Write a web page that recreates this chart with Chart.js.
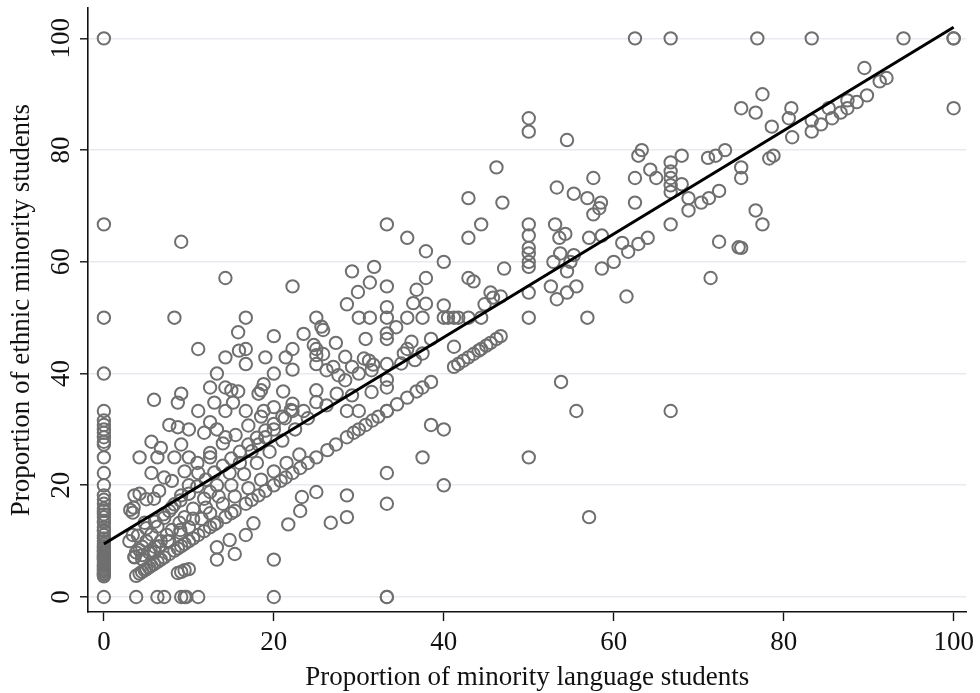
<!DOCTYPE html>
<html>
<head>
<meta charset="utf-8">
<script src="https://cdn.jsdelivr.net/npm/chart.js@4.4.1/dist/chart.umd.min.js"></script>
<style>
  html, body { margin: 0; padding: 0; background: #ffffff; }
  #wrap { width: 980px; height: 693px; position: relative; }
</style>
</head>
<body>
<div id="wrap"><canvas id="chart" width="980" height="693"></canvas></div>
<script>
// Schools with no minority-language students: share of ethnic minority students
const zeroLangEthnic = [100, 66.7, 50, 40, 33.3, 31.6, 30.8, 30, 29.4, 28.6, 27.8, 27.3, 25, 22.2, 20,
  18.2, 17.4, 16.7, 15.8, 15.4, 14.8, 14.3, 13.6, 13.3, 12.5, 12, 11.8, 11.1, 10.5, 10, 9.5, 9.1,
  8.7, 8.3, 8, 7.7, 7.4, 7.1, 6.9, 6.7, 6.3, 5.9, 5.6, 5.3, 5, 4.8, 4.5, 4.2, 4, 3.7, 0];

// Remaining schools: share of minority-language students (x) and ethnic minority students (y)
const langShare = [
  62.5, 66.7, 76.9, 83.3, 94.1, 100, 100,
  77.5, 89.5, 91.3, 92.1, 76.7, 80.9, 80.6, 78.6, 81, 83.3, 83.3, 84.4, 85.3, 85.7, 86.7, 87.5, 87.5, 88.6, 89.8, 100, 78.3, 78.8, 76.7, 77.5, 75,
  50, 50, 54.5, 75, 63.3, 62.9, 68, 66.7, 66.7, 66.7, 66.7, 66.7, 64.3, 65, 62.5, 62.5, 71.1, 72, 73.1, 75, 75, 68, 68.8, 68.8, 70.3, 71.2, 72.4,
  57.6, 53.3, 55.3, 56.9, 58.5, 58.3, 57.6, 50, 53.1, 66.7, 46.2, 42.9, 46.9, 33.3, 44.4,
  54.3, 53.6, 50, 50, 50, 50, 50, 50, 50, 57.1, 58.6, 61, 61.7, 62.9, 64, 72.4, 74.7, 71.4, 52.9, 53.7, 55.3, 54.9, 54.5, 58.6, 60,
  52.6, 53.3, 54.5, 55.6, 61.5, 56.9, 53.8, 55.6, 66.7, 50, 57.1,
  38.5, 40, 37.5, 40, 33.3, 33.3, 25, 28.6, 28.6, 26.7, 33.3,
  35.7, 37.9, 40, 42.9, 47.1, 29.2, 31.8, 31.3, 29.9, 28.6, 33.3, 33.3, 30, 31.3, 33.3, 35.7, 37.5, 40, 40.5, 41.2, 41.7, 42.9, 44.4,
  37.9, 36.8, 36.4, 37.9, 40, 42.9, 43.5, 45.5, 44.8, 45.8, 46.7, 25, 25.6, 25.8, 34.4, 33.3, 33.3, 30.8, 27.3, 24.7, 25, 38.5, 41.2,
  36.2, 35.7, 35.3, 25, 25.8, 28.4, 30.6, 31.2, 31.7, 33.3, 35, 36.6, 37.5, 25, 26.2, 27, 27.6, 28.4, 29.2, 30, 31.5, 33.3, 33.3, 31.5,
  29.2, 27.4, 25, 25, 26.2, 28.6, 30, 33.3,
  9.1, 14.3, 22.2, 8.3, 16.7, 15.8, 20, 23.5, 11.1, 14.3, 15.9, 16.7, 16.7, 19, 21.4, 22.2, 22.2, 20, 13.3, 12.5, 14.3, 15, 15.8, 18.8,
  18.5, 18.2, 21.1, 22.2, 22.2, 23.5, 13, 15.2, 16.7, 18.8, 5.9, 9.1, 8.7, 11.1,
  7.7, 8.7, 10, 5.6, 4.2, 6.3, 5.6, 9.1, 3.6, 4.2, 3.1, 3.4, 3.4, 3.8, 3.6, 13.3, 13.3, 15.4, 14.8, 16.7, 17.6, 20, 21.7, 23.1, 23.3,
  8.7, 9.1, 9.5, 10,
  3.8, 6.3, 7.1, 9.1, 9.5, 9.7, 11.1, 20, 33.3,
  3.8, 4.2, 4.5, 4.8, 5, 5.3, 5.6, 5.9, 6.3, 6.7, 7.1, 7.7, 8.3, 8.7, 9.1, 9.5, 10, 10.5, 11.1, 11.8, 12.5, 13, 13.3, 14.3, 15, 15.4,
  16.7, 17.4, 18.2, 19, 20, 20.8, 21.4, 22.2, 23.1, 24, 25, 26.3, 27.3, 28.6, 29.4, 30, 30.8, 31.6, 32.3, 33.3, 34.5, 35.7, 36.8,
  37.5, 38.5, 41.2, 41.7, 42.3, 42.9, 43.5, 44.1, 44.4, 45, 45.5, 46.2, 46.7,
  3.6, 4.2, 4.5, 5, 5.6, 6.3, 7.1, 7.7, 8.3, 9.1, 10, 11.1, 12.5, 14.3,
  4.5, 5.3, 6, 6.7, 7.4, 8, 8.9, 9.5, 10.5, 11.8, 12.5, 13.3, 14.8, 16, 17.4, 18.2, 19, 20, 21.3,
  6, 7.5, 9, 10.5, 12, 13.5, 15, 16.5, 18, 19.5, 21, 22.5, 24,
  4.5, 5.5, 6.5, 7.7, 9, 10, 11.5, 12.5, 14, 15.4, 17, 18.5, 20, 21.5, 23,
  3, 4, 5, 6, 7, 8, 9, 10, 11, 12, 13, 14, 15, 16, 17, 18, 19, 20, 21, 22,
  3.5, 5, 6.5, 8, 9.5, 11, 12.5, 14, 15.5, 17, 18.5, 20,
  4.8, 5.9, 7.1, 6.7, 8.3, 10, 11.8, 13.3, 12.5, 14.3
];
const ethnicShare = [
  100, 100, 100, 100, 100, 100, 100,
  90, 94.7, 92.3, 92.9, 86.7, 87.5, 85.7, 84.2, 82.3, 85.3, 83.3, 84.6, 87.5, 85.7, 86.7, 88.9, 87.5, 88.6, 89.8, 87.5, 78.5, 79, 69.2, 66.7, 62.5,
  85.7, 83.3, 81.8, 87.5, 80, 79, 79, 77.8, 76.2, 75, 73.7, 72.5, 76.5, 75, 75, 70.6, 78.6, 79, 80, 76.9, 75, 73.9, 71.4, 69.2, 70.6, 71.4, 72.7,
  75, 73.3, 72.2, 71.4, 70.6, 69.6, 68.5, 66.7, 66.7, 66.7, 76.9, 71.4, 70.6, 66.7, 66.7,
  65, 64.3, 64.7, 62.5, 61.5, 60, 59.1, 54.5, 50, 64.3, 64.7, 63.4, 61.8, 63.2, 64.3, 63.6, 62.6, 57.1, 60, 61.5, 61.2, 60, 58.3, 58.8, 60,
  55.6, 53.3, 54.5, 55.6, 53.8, 50, 38.5, 33.3, 33.3, 25, 14.3,
  30.8, 30, 25, 20, 22.2, 16.7, 18.8, 18.2, 14.3, 13.3, 0,
  64.3, 61.9, 60, 64.3, 58.8, 58.3, 59.1, 56.3, 54.6, 52.4, 55.6, 51.9, 50, 50, 50, 50, 50, 50, 50, 50, 50, 50, 50,
  57.1, 55, 52.6, 52.5, 52.2, 57.1, 56.5, 54.5, 52.4, 53.6, 53.8, 50, 48.4, 47.8, 48.3, 47.2, 46.2, 46.2, 45.5, 45.1, 44.4, 46.2, 44.8,
  45.7, 44.4, 43.6, 43.3, 43.5, 43, 42.7, 42.3, 41.6, 41.7, 41.8, 42.4, 43.6, 41.7, 40.6, 41.2, 39.7, 38.8, 41.2, 40, 40.6, 38.9, 37.5, 36.7,
  36.1, 36.4, 37, 34.9, 34.3, 33.3, 33.3, 33.3,
  63.6, 57.1, 55.6, 50, 50, 47.4, 46.7, 47.1, 44.4, 42.9, 44.1, 44.4, 41.7, 42.9, 42.9, 44.4, 40.7, 40, 40, 37.5, 37.5, 37, 36.8, 38.1,
  37, 36.4, 36.8, 34.6, 33.3, 33.3, 34.8, 34.8, 33.3, 33.3, 35.3, 36.4, 34.8, 33.3,
  30.8, 30.4, 30, 27.8, 25, 25, 22.2, 27.3, 18.2, 18.5, 15.6, 15.1, 11.1, 8, 7.1, 8.9, 6.7, 7.7, 10.2, 11.1, 13.2, 6.7, 13, 15.4, 17.9,
  4.3, 4.5, 4.8, 5,
  0, 0, 0, 0, 0, 0, 0, 0, 0,
  3.8, 4.2, 4.5, 4.8, 5, 5.3, 5.6, 5.9, 6.3, 6.7, 7.1, 7.7, 8.3, 8.7, 9.1, 9.5, 10, 10.5, 11.1, 11.8, 12.5, 13, 13.3, 14.3, 15, 15.4,
  16.7, 17.4, 18.2, 19, 20, 20.8, 21.4, 22.2, 23.1, 24, 25, 26.3, 27.3, 28.6, 29.4, 30, 30.8, 31.6, 32.3, 33.3, 34.5, 35.7, 36.8,
  37.5, 38.5, 41.2, 41.7, 42.3, 42.9, 43.5, 44.1, 44.4, 45, 45.5, 46.2, 46.7,
  7.2, 8.4, 9, 10, 11.2, 12.6, 14.2, 15.4, 16.6, 18.2, 20, 22.2, 25, 28.6,
  6.8, 8, 9, 10, 11.1, 12, 13.3, 14.3, 15.8, 17.6, 18.8, 20, 22.2, 24, 26.1, 27.3, 28.6, 30, 32,
  8, 10, 12, 14, 16, 18, 20, 22, 24, 26, 28, 30, 32,
  7.5, 8.3, 9.1, 10, 11.5, 12.5, 14, 15, 16.7, 18, 19.5, 21, 22.5, 24, 25.5,
  10, 11, 12.3, 13.5, 14.8, 16, 17.3, 18.5, 19.8, 21, 22.3, 23.5, 24.8, 26, 27.3, 28.5, 29.8, 31, 32.3, 33.5,
  16, 17.5, 19, 20.8, 22.5, 24, 25.8, 27.5, 29, 30.7, 32.3, 34,
  13.3, 17.6, 21.4, 26.7, 25, 25, 29.4, 30, 31.3, 33.3
];

// Fitted regression line (intercept and end value)
const fitX = [0, 100];
const fitY = [9.5, 102];

// Axis ticks
const xTicks = [0, 20, 40, 60, 80, 100];
const yTicks = [0, 20, 40, 60, 80, 100];

const FONT = "'Liberation Serif', 'Times New Roman', serif";

const scatterPoints = zeroLangEthnic.map(v => ({ x: 0, y: v }))
  .concat(langShare.map((v, i) => ({ x: v, y: ethnicShare[i] })));
const fitPoints = fitX.map((v, i) => ({ x: v, y: fitY[i] }));

// Rotated y tick labels, positioned by the y scale
const yLabelPlugin = {
  id: 'yLabels',
  afterDraw(chart) {
    const ctx = chart.ctx;
    const ys = chart.scales.y;
    ctx.save();
    ctx.fillStyle = '#111';
    ctx.font = '27px ' + FONT;
    ctx.textAlign = 'center';
    ctx.textBaseline = 'middle';
    yTicks.forEach(v => {
      const py = ys.getPixelForValue(v);
      ctx.save();
      ctx.translate(62, py);
      ctx.rotate(-Math.PI / 2);
      ctx.fillText(String(v), 0, 0);
      ctx.restore();
    });
    ctx.restore();
  }
};

new Chart(document.getElementById('chart'), {
  type: 'scatter',
  data: {
    datasets: [
      {
        label: 'Schools',
        data: scatterPoints,
        pointStyle: 'circle',
        pointRadius: 6.2,
        pointHoverRadius: 6.2,
        borderWidth: 2,
        borderColor: '#6f6f6f',
        backgroundColor: 'rgba(0,0,0,0)',
        order: 2
      },
      {
        type: 'line',
        label: 'Fitted values',
        data: fitPoints,
        borderColor: '#000000',
        borderWidth: 3,
        pointRadius: 0,
        fill: false,
        order: 1
      }
    ]
  },
  options: {
    responsive: false,
    animation: false,
    events: [],
    layout: { padding: { top: 8, right: 8, left: 0, bottom: 0 } },
    plugins: {
      legend: { display: false },
      tooltip: { enabled: false }
    },
    scales: {
      x: {
        type: 'linear',
        min: -1.87,
        max: 101.5,
        afterBuildTicks: s => { s.ticks = xTicks.map(v => ({ value: v })); },
        afterFit: s => { s.height = 81; },
        border: { display: true, color: '#111', width: 1.6 },
        grid: { drawOnChartArea: false, drawTicks: true, tickLength: 9, tickColor: '#111', tickWidth: 1.4 },
        ticks: {
          color: '#111',
          padding: 6,
          maxRotation: 0,
          font: { family: FONT, size: 27 },
          callback: v => String(v)
        },
        title: {
          display: true,
          text: 'Proportion of minority language students',
          color: '#111',
          font: { family: FONT, size: 27, lineHeight: 1 },
          padding: { top: 0, bottom: 1.5 }
        }
      },
      y: {
        type: 'linear',
        min: -2.68,
        max: 105.4,
        afterBuildTicks: s => { s.ticks = yTicks.map(v => ({ value: v })); },
        afterFit: s => { s.width = 88; },
        border: { display: true, color: '#111', width: 1.6 },
        grid: { color: '#e9eaef', lineWidth: 1.6, drawTicks: true, tickLength: 8, tickColor: '#111', tickWidth: 1.4 },
        ticks: { display: false },
        title: {
          display: true,
          text: 'Proportion of ethnic minority students',
          color: '#111',
          font: { family: FONT, size: 27, lineHeight: 1 },
          padding: { top: 8.5, bottom: 0 }
        }
      }
    }
  },
  plugins: [yLabelPlugin]
});
</script>
</body>
</html>
